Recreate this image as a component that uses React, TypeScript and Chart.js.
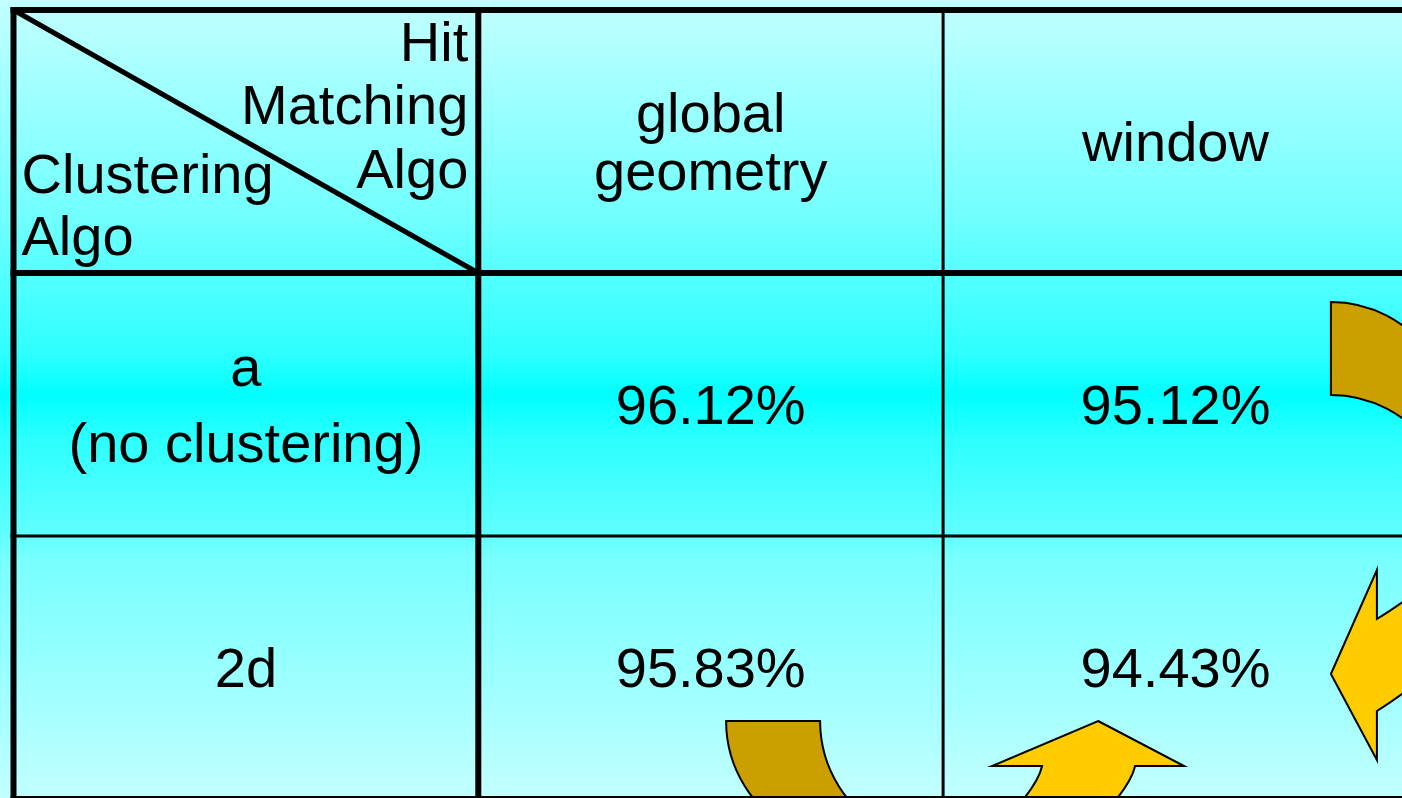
import { useEffect, useRef } from "react";
import { Chart, registerables } from "chart.js";

Chart.register(...registerables);

// Table contents
const cornerMatching: string[] = ["Hit", "Matching", "Algo"];
const cornerClustering: string[] = ["Clustering", "Algo"];
const columnHeaders: string[][] = [["global", "geometry"], ["window"]];
const rowHeaders: string[][] = [["a", "(no clustering)"], ["2d"]];
const globalGeometryRates: number[] = [96.12, 95.83];
const windowRates: number[] = [95.12, 94.43];

const FONT = '56px "Liberation Sans", Arial, sans-serif';
const GOLD = "#cc9f00";
const YELLOW = "#ffcc00";

type Cell = { x: number; y: number; v: number };

function buildCells(): Cell[] {
  const cells: Cell[] = [];
  for (let r = 0; r < rowHeaders.length; r++) {
    cells.push({ x: 1.5, y: r + 1.5, v: globalGeometryRates[r] });
    cells.push({ x: 2.5, y: r + 1.5, v: windowRates[r] });
  }
  return cells;
}

const tablePlugin = {
  id: "hitTable",
  beforeDraw(chart: any) {
    const { ctx, width, height } = chart;
    const xs = chart.scales.x;
    const ys = chart.scales.y;
    const gx = (u: number) => xs.getPixelForValue(u);
    const gy = (v: number) => ys.getPixelForValue(v);

    // background wash
    const g = ctx.createLinearGradient(0, 0, 0, height);
    g.addColorStop(0, "#c2ffff");
    g.addColorStop(0.08, "#aaffff");
    g.addColorStop(0.27, "#72ffff");
    g.addColorStop(0.34, "#55ffff");
    g.addColorStop(0.44, "#30ffff");
    g.addColorStop(0.495, "#00ffff");
    g.addColorStop(0.55, "#2cffff");
    g.addColorStop(0.67, "#60ffff");
    g.addColorStop(0.7, "#78ffff");
    g.addColorStop(0.9, "#a8ffff");
    g.addColorStop(1, "#c2ffff");
    ctx.save();
    ctx.fillStyle = g;
    ctx.fillRect(0, 0, width, height);

    ctx.lineWidth = 2;
    ctx.strokeStyle = "#000";
    ctx.lineJoin = "miter";
    const deg = (d: number) => (d * Math.PI) / 180;

    // curved arrow band, upper right
    {
      const ax = gx(3), ay = gy(1);
      const R = 121;
      const c1 = [ax - 77, ay + 150];
      const c2 = [ax - 77, ay + 243];
      ctx.beginPath();
      ctx.arc(c1[0], c1[1], R, deg(-90), deg(-35), false);
      ctx.lineTo(c2[0] + R * Math.cos(deg(-35)), c2[1] + R * Math.sin(deg(-35)));
      ctx.arc(c2[0], c2[1], R, deg(-35), deg(-90), true);
      ctx.closePath();
      ctx.fillStyle = GOLD;
      ctx.fill();
      ctx.stroke();
    }

    // arrow head pointing left, lower right
    {
      const ax = gx(3), ay = gy(2);
      const p = (dx: number, dy: number): [number, number] => [ax + dx, ay + dy];
      ctx.beginPath();
      ctx.moveTo(...p(-77, 138));
      ctx.lineTo(...p(-31, 34));
      ctx.lineTo(...p(-31, 83));
      ctx.quadraticCurveTo(...p(-8, 69), ...p(32, 39));
      ctx.lineTo(...p(32, 129));
      ctx.quadraticCurveTo(...p(-8, 161), ...p(-31, 175));
      ctx.lineTo(...p(-31, 224));
      ctx.closePath();
      ctx.fillStyle = YELLOW;
      ctx.fill();
      ctx.stroke();
    }

    // curved band, bottom middle
    {
      const ax = gx(2), ay = gy(3);
      const R = 123;
      const cl = [ax - 94, ay - 78];
      const cr = [ax, ay - 78];
      ctx.beginPath();
      ctx.arc(cl[0], cl[1], R, deg(180), deg(116), true);
      ctx.lineTo(cr[0] + R * Math.cos(deg(116)), cr[1] + R * Math.sin(deg(116)));
      ctx.arc(cr[0], cr[1], R, deg(116), deg(180), false);
      ctx.closePath();
      ctx.fillStyle = GOLD;
      ctx.fill();
      ctx.stroke();
    }

    // arrow head pointing up, bottom
    {
      const ax = gx(2), ay = gy(3);
      const p = (dx: number, dy: number): [number, number] => [ax + dx, ay + dy];
      ctx.beginPath();
      ctx.moveTo(...p(155, -78));
      ctx.lineTo(...p(241, -33));
      ctx.lineTo(...p(192, -33));
      ctx.quadraticCurveTo(...p(187, -10), ...p(145, 31));
      ctx.lineTo(...p(52, 31));
      ctx.quadraticCurveTo(...p(94, -10), ...p(99, -33));
      ctx.lineTo(...p(49, -33));
      ctx.closePath();
      ctx.fillStyle = YELLOW;
      ctx.fill();
      ctx.stroke();
    }
    ctx.restore();
  },
  afterDatasetsDraw(chart: any) {
    const { ctx } = chart;
    const xs = chart.scales.x;
    const ys = chart.scales.y;
    const gx = (u: number) => xs.getPixelForValue(u);
    const gy = (v: number) => ys.getPixelForValue(v);
    ctx.save();
    ctx.strokeStyle = "#000";
    ctx.lineCap = "butt";

    // grid rules: thick frame and header separators, thin inner rules
    const ruleWidth = (i: number) => (i === 2 ? 3 : 6);
    for (let i = 0; i <= 3; i++) {
      ctx.lineWidth = ruleWidth(i);
      ctx.beginPath();
      ctx.moveTo(gx(0) - 3, gy(i));
      ctx.lineTo(gx(3) + 3, gy(i));
      ctx.stroke();
      ctx.beginPath();
      ctx.moveTo(gx(i), gy(0) - 3);
      ctx.lineTo(gx(i), gy(3) + 3);
      ctx.stroke();
    }
    // corner diagonal
    ctx.lineWidth = 5;
    ctx.beginPath();
    ctx.moveTo(gx(0), gy(0));
    ctx.lineTo(gx(1), gy(1));
    ctx.stroke();

    ctx.fillStyle = "#000";
    ctx.font = FONT;
    ctx.textBaseline = "alphabetic";

    // corner labels
    ctx.textAlign = "right";
    cornerMatching.forEach((t, i) => {
      ctx.fillText(t, gx(1) - 10, gy(0) + 51 + i * 63.5);
    });
    ctx.textAlign = "left";
    cornerClustering.forEach((t, i) => {
      ctx.fillText(t, gx(0) + 8, gy(1) - 18 - (cornerClustering.length - 1 - i) * 62);
    });

    ctx.textAlign = "center";
    const block = (lines: string[], cx: number, cy: number, lh: number) => {
      lines.forEach((t, i) => {
        ctx.fillText(t, cx, cy + 20 + (i - (lines.length - 1) / 2) * lh);
      });
    };
    columnHeaders.forEach((lines, c) => block(lines, gx(c + 1.5), gy(0.5), 58));
    rowHeaders.forEach((lines, r) => block(lines, gx(0.5), gy(r + 1.5), 76));

    // cell values, placed at the dataset points
    const meta = chart.getDatasetMeta(0);
    const data = chart.data.datasets[0].data as Cell[];
    meta.data.forEach((el: any, i: number) => {
      block([data[i].v.toFixed(2) + "%"], el.x, el.y, 0);
    });
    ctx.restore();
  },
};

export default function App() {
  const canvasRef = useRef<HTMLCanvasElement | null>(null);

  useEffect(() => {
    const canvas = canvasRef.current;
    if (!canvas) return;
    const chart = new Chart(canvas, {
      type: "scatter",
      data: {
        datasets: [
          {
            label: "hit rate",
            data: buildCells() as any,
            pointRadius: 0,
            pointHoverRadius: 0,
          },
        ],
      },
      options: {
        animation: false,
        responsive: false,
        maintainAspectRatio: false,
        devicePixelRatio: 1,
        events: [],
        layout: { padding: 0 },
        plugins: {
          legend: { display: false },
          tooltip: { enabled: false },
          title: { display: false },
        },
        scales: {
          x: { type: "linear", display: false, min: -0.02904, max: 2.98731 },
          y: { type: "linear", display: false, reverse: true, min: -0.03802, max: 2.9962 },
        },
      },
      plugins: [tablePlugin],
    });
    return () => chart.destroy();
  }, []);

  return (
    <canvas
      ref={canvasRef}
      width={1402}
      height={798}
      style={{ position: "fixed", left: 0, top: 0, display: "block", width: 1402, height: 798 }}
    />
  );
}
